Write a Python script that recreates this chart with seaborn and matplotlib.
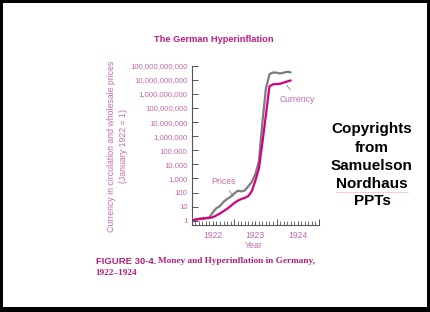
import numpy as np
import pandas as pd
import matplotlib
matplotlib.use("Agg")
import matplotlib.pyplot as plt
import matplotlib.ticker as mticker
from matplotlib.patches import Rectangle
from matplotlib.lines import Line2D
import seaborn as sns

# ---- data (monthly, Jan 1922 .. May 1924), index Jan 1922 = 1 ----
month_index = list(range(29))
prices = [1, 1.2, 1.4, 1.5, 1.6, 1.7, 4, 8, 11, 22, 35, 50, 85, 135, 120, 140,
          280, 560, 2000, 16000, 1e7, 2.5e9, 2.5e10, 3.3e10, 3.2e10, 2.8e10,
          3.2e10, 3.7e10, 3.4e10]
currency = [1, 1.2, 1.3, 1.4, 1.5, 1.6, 1.8, 2.4, 3.3, 4.8, 7, 11, 18, 26, 35,
            42, 56, 125, 700, 5000, 3.5e5, 3.5e7, 3.5e9, 4.8e9, 5e9, 5.2e9,
            6.3e9, 7.6e9, 9e9]
year_labels = ["1922", "1923", "1924"]
ytick_values = [10 ** k for k in range(12)]

start_year = 1922
years = [start_year + m / 12 for m in month_index]
df = pd.DataFrame({"year": years, "prices": prices, "currency": currency})

sns.set_theme(style="white")
plt.rcParams["font.family"] = ["Liberation Sans", "DejaVu Sans"]

W, H = 430, 312
def fx(px):
    return px / W
def fy(py):
    return 1 - py / H

TITLE = "#c41a82"
LIGHT = "#c46aae"
CAPTION = "#b51f7c"
MAG = "#d4007f"
GRAY = "#7c7c7c"
AXC = "#555555"

fig = plt.figure(figsize=(W / 100, H / 100), dpi=100, facecolor="black")
fig.add_artist(Rectangle((fx(3), fy(307)), fx(427) - fx(3), fy(3) - fy(307),
                         transform=fig.transFigure, facecolor="white",
                         edgecolor="none", zorder=-5))

ax = fig.add_axes([fx(191.7), fy(225), fx(319) - fx(191.7), fy(65.7) - fy(225)])
ax.set_facecolor("none")

sns.lineplot(data=df, x="year", y="prices", ax=ax, color=GRAY, lw=1.6)
sns.lineplot(data=df, x="year", y="currency", ax=ax, color=MAG, lw=1.6)

ax.set_yscale("log")
ax.set_ylim(10 ** -0.3, 1e11)
ax.set_xlim(1922, 1925)

for s in ["top", "right"]:
    ax.spines[s].set_visible(False)
for s in ["left", "bottom"]:
    ax.spines[s].set_color(AXC)
    ax.spines[s].set_linewidth(0.8)

ax.yaxis.set_major_locator(mticker.FixedLocator(ytick_values))
ax.yaxis.set_minor_locator(mticker.NullLocator())
ax.yaxis.set_major_formatter(mticker.FuncFormatter(lambda v, p: f"{int(round(v)):,}"))
ax.tick_params(axis="y", which="major", left=True, direction="in", length=4,
               width=0.7, color=AXC, pad=3, labelsize=5.6, labelcolor=LIGHT)

# major ticks at year boundaries and year midpoints (labels at midpoints)
major_pos = []
major_lab = []
for i in range(4):
    major_pos.append(start_year + i)
    major_lab.append("")
    if i < 3:
        major_pos.append(start_year + i + 0.5)
        major_lab.append(year_labels[i])
ax.set_xticks(major_pos, major_lab)
ax.xaxis.set_minor_locator(mticker.MultipleLocator(1 / 12))
ax.tick_params(axis="x", which="major", bottom=True, direction="in", length=4.5,
               width=0.7, color=AXC, pad=4.5, labelsize=6.2, labelcolor=LIGHT)
ax.tick_params(axis="x", which="minor", bottom=True, direction="in", length=2.6,
               width=0.6, color=AXC)
for t, lab in zip(ax.xaxis.get_major_ticks(), major_lab):
    if lab:
        t.tick1line.set_markersize(2.6)
ax.set_xlabel("")
ax.set_ylabel("")

# curve labels
ax.annotate("Prices", xy=(1922.985, 50), xytext=(1922.745, 600),
            ha="center", va="center", fontsize=6.2, color=LIGHT,
            arrowprops=dict(arrowstyle="-", color="#777777", lw=0.5,
                            shrinkA=1, shrinkB=0))
ax.annotate("Currency", xy=(1924.24, 4.2e9), xytext=(1924.48, 4.3e8),
            ha="center", va="center", fontsize=6.2, color=LIGHT,
            arrowprops=dict(arrowstyle="-", color="#777777", lw=0.5,
                            shrinkA=1, shrinkB=0))

# texts
fig.text(fx(213.5), fy(39.5), "The German Hyperinflation", ha="center",
         va="center", fontsize=6.7, fontweight="bold", color=TITLE)
fig.text(fx(111.7), fy(146), "Currency in circulation and wholesale prices",
         rotation=90, ha="center", va="center", fontsize=6.3, color=LIGHT)
fig.text(fx(123.3), fy(146), "(January 1922 = 1)",
         rotation=90, ha="center", va="center", fontsize=6.3, color=LIGHT)
fig.text(fx(254), fy(245.7), "Year", ha="center", va="center", fontsize=6.3,
         color=LIGHT)

fig.text(fx(95.7), fy(261), "FIGURE 30-4.", ha="left", va="center",
         fontsize=6.8, fontweight="bold", color=CAPTION)
fig.text(fx(158.3), fy(261), "Money and Hyperinflation in Germany,",
         ha="left", va="center", fontsize=6.7, fontweight="bold",
         color=CAPTION, family=["Liberation Serif", "DejaVu Serif"])
fig.text(fx(95.7), fy(272.7), "1922\u20131924",
         ha="left", va="center", fontsize=6.7, fontweight="bold",
         color=CAPTION, family=["Liberation Serif", "DejaVu Serif"])

for line, ypx in zip(["Copyrights", "from", "Samuelson", "Nordhaus", "PPTs"],
                     [129, 147.7, 165.7, 183.7, 201.3]):
    fig.text(fx(372), fy(ypx), line, ha="center", va="center", fontsize=11,
             fontweight="bold", color="black")
# faint spell-check underline under "Nordhaus"
fig.add_artist(Line2D([fx(336), fx(408)], [fy(191.5), fy(191.5)],
                      transform=fig.transFigure, color="#e06060", lw=0.6,
                      ls=(0, (1, 1)), alpha=0.7))

fig.savefig("out.png", dpi=100, facecolor=fig.get_facecolor())
